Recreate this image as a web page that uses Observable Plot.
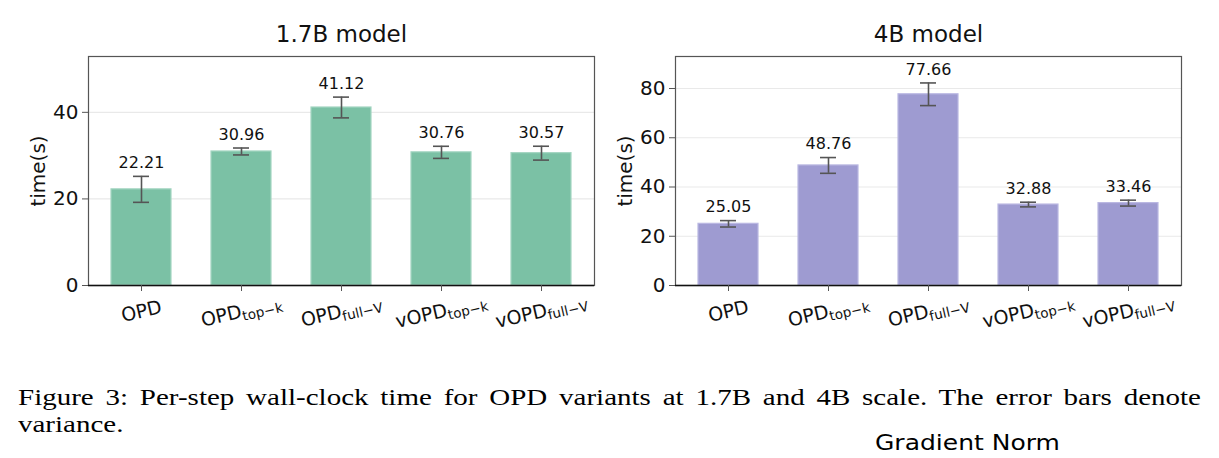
<!DOCTYPE html>
<html>
<head>
<meta charset="utf-8">
<script src="https://cdn.jsdelivr.net/npm/d3@7"></script>
<script src="https://cdn.jsdelivr.net/npm/@observablehq/plot@0.6"></script>
<style>
  html, body { margin: 0; padding: 0; background: #fff; }
  #page { position: relative; width: 1219px; height: 458px; overflow: hidden; background: #fff; }
  #left { position: absolute; left: 0; top: 0; }
  #right { position: absolute; left: 610px; top: 0; }
  .cap { position: absolute; font-family: "Liberation Serif", "Times New Roman", serif; font-size: 29px; line-height: 26px; color: #000; white-space: nowrap; transform: scaleY(0.78); transform-origin: 50% 50%; }
  #cap1 { left: 18px; top: 384px; width: 1183px; text-align: justify; text-align-last: justify; }
  #cap2 { left: 18px; top: 411px; transform-origin: 0 50%; }
  #next { position: absolute; left: 875px; top: 433px; font-family: "DejaVu Sans", sans-serif; font-size: 25px; line-height: 24px; color: #000; transform: scaleY(0.85); transform-origin: 0 0; }
</style>
</head>
<body>
<div id="page">
  <div id="left"></div>
  <div id="right"></div>
  <div class="cap" id="cap1">Figure 3: Per-step wall-clock time for OPD variants at 1.7B and 4B scale. The error bars denote</div>
  <div class="cap" id="cap2">variance.</div>
  <div id="next">Gradient Norm</div>
</div>
<script>
// ---- data ----
const categories = ["OPD", "OPD|top\u2212k", "OPD|full\u2212V", "vOPD|top\u2212k", "vOPD|full\u2212V"];
const time17 = [22.21, 30.96, 41.12, 30.76, 30.57];
const err17 = [3.0, 0.8, 2.4, 1.4, 1.6];
const time4 = [25.05, 48.76, 77.66, 32.88, 33.46];
const err4 = [1.3, 3.2, 4.6, 0.95, 1.2];
const yTicks17 = [0, 20, 40];
const yTicks4 = [0, 20, 40, 60, 80];
const titles = ["1.7B model", "4B model"];
const yLabel = "time(s)";

function panel({title, values, errs, ticks, ymax, fill, stroke, width, marginLeft, marginRight}) {
  const data = categories.map((c, i) => ({cat: c, v: values[i], e: errs[i]}));
  const chart = Plot.plot({
    width, height: 345,
    marginTop: 56, marginBottom: 60, marginLeft, marginRight,
    style: {fontFamily: "'DejaVu Sans', sans-serif", background: "transparent", overflow: "visible"},
    x: {domain: categories, paddingInner: 0.4, paddingOuter: 0.23, axis: null},
    y: {domain: [0, ymax], axis: null},
    marks: [
      Plot.gridY(ticks.filter(t => t > 0), {stroke: "#e9e9e9", strokeOpacity: 1, strokeWidth: 1.2}),
      Plot.barY(data, {x: "cat", y: "v", fill, stroke, strokeWidth: 1.2}),
      Plot.ruleX(data, {x: "cat", y1: d => d.v - d.e, y2: d => d.v + d.e, stroke: "#555", strokeWidth: 1.6}),
      Plot.tickY(data, {x: "cat", y: d => d.v + d.e, stroke: "#555", strokeWidth: 1.6, insetLeft: 22, insetRight: 22}),
      Plot.tickY(data, {x: "cat", y: d => d.v - d.e, stroke: "#555", strokeWidth: 1.6, insetLeft: 22, insetRight: 22}),
      Plot.text(data, {x: "cat", y: d => d.v + d.e, dy: -13.5, text: d => d.v.toFixed(2), fontSize: 16, fill: "#111"}),
      Plot.frame({stroke: "#555", strokeWidth: 1.2}),
      Plot.ruleY([0], {stroke: "#111", strokeWidth: 1.5}),
      Plot.axisY({ticks, tickSize: 6, tickPadding: 4, fontSize: 20, label: null, stroke: "#555", fill: "#111"}),
      Plot.axisX({tickSize: 6, tickFormat: () => "", label: null, stroke: "#555"}),
      Plot.text(data, {x: "cat", y: () => 0, dy: 26, text: "cat", rotate: -13, fontSize: 19, fill: "#111", textAnchor: "middle", lineAnchor: "middle"}),
      Plot.text([title], {frameAnchor: "top", dy: -22, fontSize: 23, fill: "#111", textAnchor: "middle", lineAnchor: "middle"}),
      Plot.text([yLabel], {frameAnchor: "left", dx: -50, rotate: -90, fontSize: 20, fill: "#111", textAnchor: "middle", lineAnchor: "middle"})
    ]
  });
  // turn "BASE|sub" labels into base + subscript tspans
  chart.querySelectorAll("text").forEach(t => {
    const s = t.textContent;
    if (s.includes("|") && t.children.length === 0) {
      const [base, sub] = s.split("|");
      t.textContent = base;
      const ts = document.createElementNS("http://www.w3.org/2000/svg", "tspan");
      ts.setAttribute("font-size", "13.5");
      ts.setAttribute("dy", "3.5");
      ts.textContent = sub;
      t.appendChild(ts);
    }
  });
  return chart;
}

document.getElementById("left").appendChild(panel({
  title: titles[0], values: time17, errs: err17, ticks: yTicks17, ymax: 52.9,
  fill: "#7bc1a5", stroke: "#a3d5c1", width: 610, marginLeft: 88, marginRight: 16
}));
document.getElementById("right").appendChild(panel({
  title: titles[1], values: time4, errs: err4, ticks: yTicks4, ymax: 93,
  fill: "#9e9bd1", stroke: "#bab8e2", width: 609, marginLeft: 65, marginRight: 38
}));
</script>
</body>
</html>
